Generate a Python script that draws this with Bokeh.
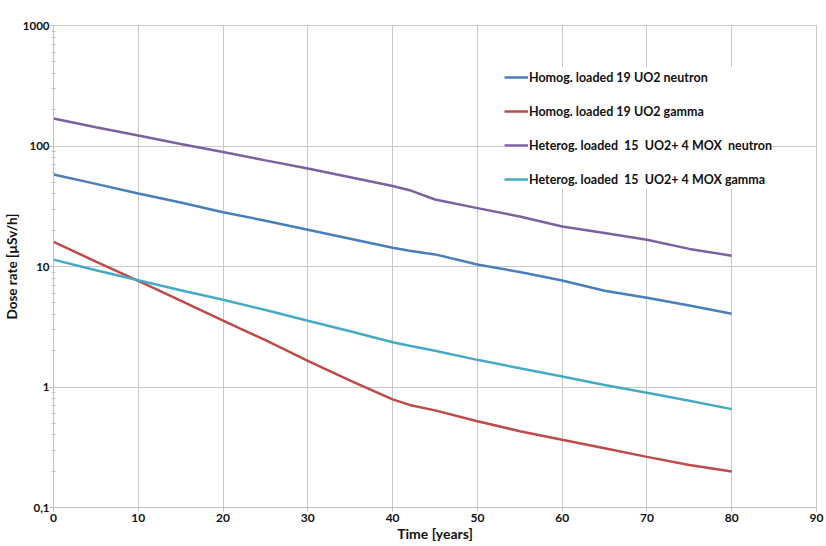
from bokeh.plotting import figure
from bokeh.models import Range1d, FixedTicker, Legend, LegendItem, CustomJSTickFormatter
from bokeh.embed import file_html
from bokeh.resources import INLINE

# ---- data ----
years = [0, 5, 10, 15, 20, 25, 30, 35, 40, 42, 45, 50, 55, 60, 65, 70, 75, 80]
homog_neutron = [58, 48.5, 40.4, 34, 28.2, 24, 20.2, 17, 14.3, 13.5, 12.6, 10.4, 9.0, 7.65, 6.3, 5.5, 4.75, 4.05]
homog_gamma = [16, 11, 7.6, 5.2, 3.55, 2.45, 1.65, 1.13, 0.79, 0.71, 0.64, 0.52, 0.43, 0.365, 0.31, 0.263, 0.225, 0.199]
heterog_neutron = [169, 143, 122, 104, 89, 76, 65, 55, 46.5, 43, 36, 30.5, 26, 21.5, 19, 16.7, 14, 12.3]
heterog_gamma = [11.4, 9.3, 7.7, 6.35, 5.3, 4.35, 3.55, 2.9, 2.35, 2.2, 2.0, 1.68, 1.43, 1.22, 1.04, 0.895, 0.77, 0.655]

series_labels = [
    "Homog. loaded 19 UO2 neutron",
    "Homog. loaded 19 UO2 gamma",
    "Heterog. loaded  15  UO2+ 4 MOX  neutron",
    "Heterog. loaded  15  UO2+ 4 MOX gamma",
]
series_colors = ["#4a7ebb", "#be4b48", "#7d60a0", "#46aac5"]

x_ticks = [0, 10, 20, 30, 40, 50, 60, 70, 80, 90]
y_ticks = [0.1, 1, 10, 100, 1000]
y_minor = [m * d for d in [0.1, 1, 10, 100] for m in range(2, 10)]
x_title = "Time [years]"
y_title = "Dose rate [µSv/h]"

FONT = "Lato"

p = figure(width=826, height=546,
           x_range=Range1d(0, 90), y_range=Range1d(0.1, 1000),
           y_axis_type="log",
           output_backend="svg", toolbar_location=None,
           min_border_left=49, min_border_right=10,
           min_border_top=25, min_border_bottom=39)

p.background_fill_color = "white"
p.border_fill_color = "white"
p.outline_line_color = "#c8c8c8"

renderers = []
for vals, col in zip([homog_neutron, homog_gamma, heterog_neutron, heterog_gamma], series_colors):
    r = p.line(years, vals, line_color=col, line_width=2.5)
    renderers.append(r)

# axes
p.xaxis.ticker = FixedTicker(ticks=x_ticks)
p.yaxis.ticker = FixedTicker(ticks=y_ticks, minor_ticks=y_minor)
p.yaxis.formatter = CustomJSTickFormatter(code="return tick < 1 ? tick.toString().replace('.', ',') : tick.toFixed(0);")

for ax in [p.xaxis[0], p.yaxis[0]]:
    ax.axis_line_color = "#c0c0c0"
    ax.major_tick_line_color = "#c0c0c0"
    ax.minor_tick_line_color = "#c0c0c0"
    ax.major_tick_out = 4
    ax.major_tick_in = 0
    ax.major_label_text_font = FONT
    ax.major_label_text_font_style = "bold"
    ax.major_label_text_font_size = "12px"
    ax.major_label_text_color = "#111111"
    ax.axis_label_text_font = FONT
    ax.axis_label_text_font_style = "bold"
    ax.axis_label_text_font_size = "14px"
    ax.axis_label_text_color = "#111111"
    ax.major_label_standoff = 2
    ax.axis_label_standoff = 0

p.xaxis.minor_tick_line_color = None
p.yaxis.minor_tick_in = 2
p.yaxis.minor_tick_out = 2
p.yaxis.major_label_standoff = 0
p.yaxis.major_label_text_font_size = "11.5px"
p.yaxis.axis_label_text_font_size = "13.5px"
p.xaxis.axis_label = x_title
p.yaxis.axis_label = y_title

p.xgrid.ticker = FixedTicker(ticks=x_ticks)
p.ygrid.ticker = FixedTicker(ticks=y_ticks)
p.xgrid.grid_line_color = "#c8c8c8"
p.ygrid.grid_line_color = "#c8c8c8"

legend = Legend(items=[LegendItem(label=lab, renderers=[r]) for lab, r in zip(series_labels, renderers)],
                location=(451, 318))
legend.background_fill_color = "white"
legend.background_fill_alpha = 1.0
legend.border_line_color = None
legend.label_text_font = FONT
legend.label_text_font_style = "bold"
legend.label_text_font_size = "12.5px"
legend.label_text_color = "#111111"
legend.glyph_width = 24
legend.glyph_height = 20
legend.label_height = 20
legend.label_standoff = 1
legend.spacing = 14
legend.padding = 7
legend.margin = 0
p.add_layout(legend)

open("out.html", "w").write(file_html(p, INLINE))
